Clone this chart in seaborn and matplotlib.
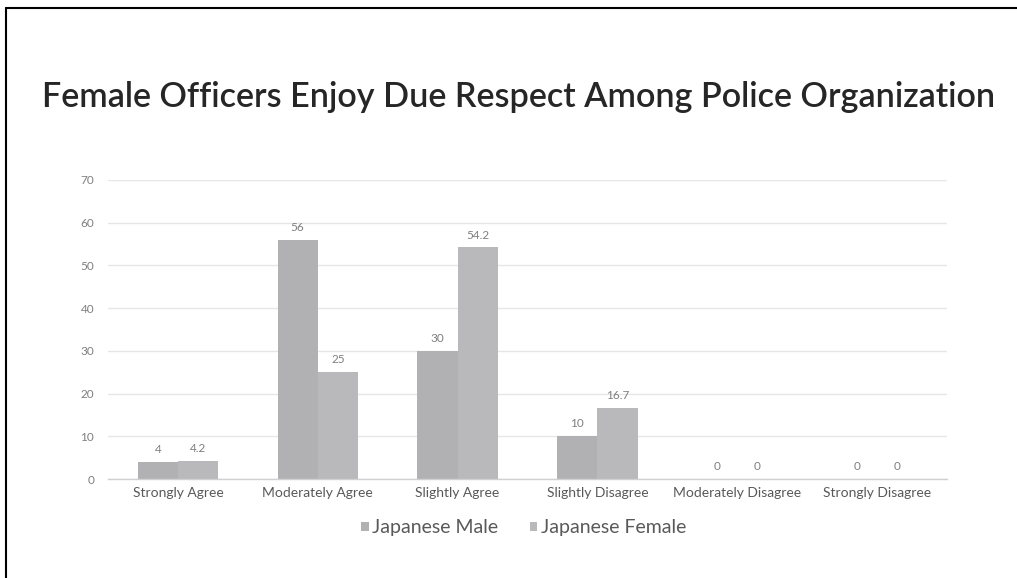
import matplotlib
matplotlib.use("Agg")
import matplotlib.pyplot as plt
import seaborn as sns
import pandas as pd
from matplotlib.lines import Line2D
from matplotlib.patches import Patch

categories = ["Strongly Agree", "Moderately Agree", "Slightly Agree",
              "Slightly Disagree", "Moderately Disagree", "Strongly Disagree"]
male = [4, 56, 30, 10, 0, 0]
female = [4.2, 25, 54.2, 16.7, 0, 0]
series_names = ["Japanese Male", "Japanese Female"]
yticks = [0, 10, 20, 30, 40, 50, 60, 70]

df = pd.DataFrame({
    "category": categories * 2,
    "value": male + female,
    "series": [series_names[0]] * len(categories) + [series_names[1]] * len(categories),
})

sns.set_theme(style="white")
plt.rcParams["font.family"] = ["Lato", "DejaVu Sans"]

fig = plt.figure(figsize=(10.17, 5.78), dpi=100)
ax = fig.add_axes([108/1017, 1 - 479/578, (947-108)/1017, (479-180)/578])

colors = ["#b1b1b4", "#b9b9bc"]
sns.barplot(data=df, x="category", y="value", hue="series", order=categories,
            hue_order=series_names, palette=colors, width=0.575, ax=ax,
            legend=False, saturation=1, linewidth=0)

ax.set_ylim(0, 70)
ax.set_xlim(-0.5, len(categories) - 0.5)
ax.set_yticks(yticks)
ax.set_yticklabels([str(v) for v in yticks], color="#7f7f7f", fontsize=8.5)
ax.tick_params(axis="y", length=0, pad=10)
ax.tick_params(axis="x", length=0, pad=6)
for lbl in ax.get_xticklabels():
    lbl.set_color("#595959")
    lbl.set_fontsize(10)
ax.set_xlabel("")
ax.set_ylabel("")
ax.yaxis.grid(True, color="#e6e6e6", linewidth=1)
ax.set_axisbelow(True)
for s in ["top", "right", "left"]:
    ax.spines[s].set_visible(False)
ax.spines["bottom"].set_color("#d0d0d0")
ax.spines["bottom"].set_linewidth(1)

for cont in ax.containers:
    ax.bar_label(cont, labels=[f"{v:g}" for v in cont.datavalues],
                 padding=5, color="#7f7f7f", fontsize=8.5)

fig.text(519/1017, 1 - 97/578, "Female Officers Enjoy Due Respect Among Police Organization",
         ha="center", va="center", fontsize=24.6, color="#262626", fontweight="semibold")

handles = [Patch(facecolor=c, edgecolor="none") for c in colors]
fig.legend(handles, series_names, loc="center", bbox_to_anchor=(0.515, 1 - 528/578),
           ncol=2, frameon=False, fontsize=14, labelcolor="#595959",
           handlelength=0.4, handleheight=0.4, handletextpad=0.2, columnspacing=1.6)

fig.add_artist(Line2D([6/1017, 6/1017], [0, 1 - 8/578], transform=fig.transFigure,
                      color="black", linewidth=1.5))
fig.add_artist(Line2D([6/1017, 1], [1 - 8/578, 1 - 8/578], transform=fig.transFigure,
                      color="black", linewidth=1.5))

fig.savefig("out.png", dpi=100, facecolor="white")
